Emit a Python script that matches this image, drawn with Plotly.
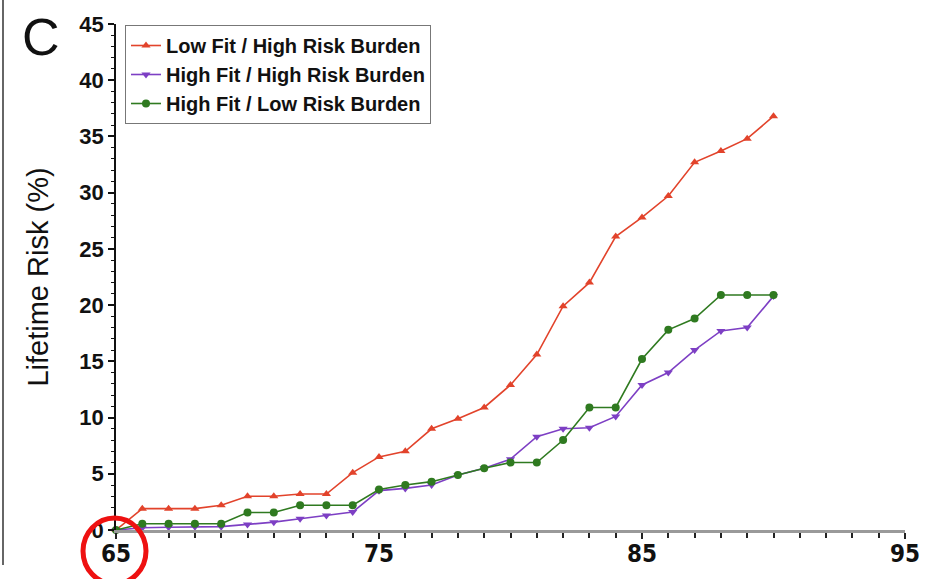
import plotly.graph_objects as go

# Age (years) and cumulative lifetime risk (%) for each fitness / risk-burden group
ages = list(range(65, 91))
low_fit_high_risk = [0, 1.9, 1.9, 1.9, 2.2, 3.0, 3.0, 3.2, 3.2, 5.1, 6.5, 7.0, 9.0, 9.9,
                     10.9, 12.9, 15.6, 19.9, 22.0, 26.1, 27.8, 29.7, 32.7, 33.7, 34.8, 36.8]
high_fit_high_risk = [0, 0.2, 0.25, 0.3, 0.3, 0.5, 0.7, 1.0, 1.3, 1.6, 3.5, 3.7, 4.0, 4.9,
                      5.5, 6.3, 8.3, 9.0, 9.1, 10.1, 12.9, 14.0, 16.0, 17.7, 18.0, 20.8]
high_fit_low_risk = [0, 0.55, 0.55, 0.55, 0.55, 1.55, 1.55, 2.2, 2.2, 2.2, 3.6, 4.0, 4.3, 4.9,
                     5.5, 6.0, 6.0, 8.0, 10.9, 10.9, 15.2, 17.8, 18.8, 20.9, 20.9, 20.9]

series_names = ["Low Fit / High Risk Burden", "High Fit / High Risk Burden",
                "High Fit / Low Risk Burden"]
series_values = [low_fit_high_risk, high_fit_high_risk, high_fit_low_risk]
series_colors = ["#e2432b", "#7d3fc4", "#2f7a20"]
series_symbols = ["triangle-up", "triangle-down", "circle"]

x_ticks = [65, 75, 85, 95]
y_ticks = list(range(0, 46, 5))

fig = go.Figure()
for name, vals, col, sym in zip(series_names, series_values, series_colors, series_symbols):
    fig.add_trace(go.Scatter(
        x=ages, y=vals, name=name, mode="lines+markers",
        line=dict(color=col, width=1.6),
        marker=dict(symbol=sym, size=8, color=col),
        cliponaxis=False,
    ))

W, H = 935, 579
ml, mr, mt, mb = 116, 30, 24, 49
pw, ph = W - ml - mr, H - mt - mb


def px_x(p):
    return (p - ml) / pw


def px_y(p):
    return (H - mb - p) / ph


fig.update_layout(
    width=W, height=H,
    margin=dict(l=ml, r=mr, t=mt, b=mb, autoexpand=False),
    paper_bgcolor="white", plot_bgcolor="white",
    font=dict(family="Liberation Sans, Arial, sans-serif", color="#111"),
    showlegend=True,
    legend=dict(
        x=px_x(125), y=px_y(25), xanchor="left", yanchor="top",
        bordercolor="#777", borderwidth=1, bgcolor="white",
        font=dict(size=20, weight="bold", color="#111"),
        tracegroupgap=0, itemwidth=30,
    ),
    xaxis=dict(
        range=[65, 95], tickvals=x_ticks, ticktext=[str(v) for v in x_ticks],
        automargin=False,
        showgrid=False, zeroline=False,
        showline=True, linecolor="#9a9a9a", linewidth=2.5,
        ticks="outside", ticklen=6, tickwidth=1.5, tickcolor="#222",
        minor=dict(dtick=1, ticks="outside", ticklen=5, tickwidth=1.5, tickcolor="#222"),
        ticklabelstandoff=-6,
        tickfont=dict(family="DejaVu Sans Condensed, Liberation Sans Narrow, Liberation Sans, sans-serif",
                      size=24, weight="bold", color="#111"),
    ),
    yaxis=dict(
        range=[0, 45], tickvals=y_ticks,
        automargin=False,
        showgrid=False, zeroline=False,
        showline=True, linecolor="#111", linewidth=1.5,
        ticks="outside", ticklen=6, tickwidth=1.5, tickcolor="#111",
        minor=dict(dtick=1, ticks="outside", ticklen=3, tickwidth=1, tickcolor="#111"),
        tickfont=dict(size=22, weight="bold", color="#111"),
        title=dict(text="Lifetime Risk (%)", font=dict(size=29, color="#111"), standoff=22),
    ),
    annotations=[
        dict(text="C", xref="paper", yref="paper", x=px_x(41), y=px_y(37),
             xanchor="center", yanchor="middle", showarrow=False,
             font=dict(size=52, color="#111", family="Liberation Sans, Arial, sans-serif")),
    ],
    shapes=[
        # frame edge on the left of the panel
        dict(type="line", xref="paper", yref="paper",
             x0=px_x(3), x1=px_x(3), y0=px_y(0), y1=px_y(565),
             line=dict(color="#666", width=2)),
        # red highlight ring around the starting age
        dict(type="circle", xref="paper", yref="paper",
             x0=px_x(83), x1=px_x(146), y0=px_y(584), y1=px_y(518),
             line=dict(color="#ee1111", width=5)),
    ],
)

fig.write_html("out.html")
